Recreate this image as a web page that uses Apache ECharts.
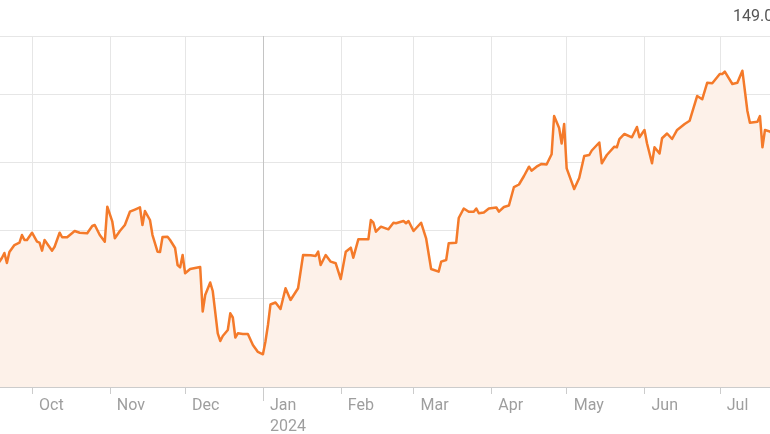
<!DOCTYPE html>
<html>
<head>
<meta charset="utf-8">
<script src="https://cdn.jsdelivr.net/npm/echarts@6/dist/echarts.min.js"></script>
<style>
html,body{margin:0;padding:0;background:#fff;}
#chart{width:770px;height:434px;}
</style>
</head>
<body>
<div id="chart"></div>
<script>
// ---- data ----
const dates = [
'2023-09-17','2023-09-18','2023-09-19','2023-09-20','2023-09-21','2023-09-22','2023-09-24','2023-09-26','2023-09-27','2023-09-28','2023-09-29',
'2023-10-01','2023-10-03','2023-10-04','2023-10-05','2023-10-06','2023-10-09','2023-10-10','2023-10-12','2023-10-13','2023-10-15','2023-10-18','2023-10-20','2023-10-23','2023-10-25','2023-10-26','2023-10-28','2023-10-30','2023-10-31',
'2023-11-02','2023-11-03','2023-11-05','2023-11-07','2023-11-09','2023-11-11','2023-11-13','2023-11-14','2023-11-15','2023-11-17','2023-11-18','2023-11-20','2023-11-21','2023-11-22','2023-11-24','2023-11-25','2023-11-27','2023-11-28','2023-11-29','2023-11-30',
'2023-12-01','2023-12-03','2023-12-05','2023-12-07','2023-12-08','2023-12-09','2023-12-11','2023-12-12','2023-12-14','2023-12-15','2023-12-16','2023-12-18','2023-12-19','2023-12-20','2023-12-21','2023-12-22','2023-12-24','2023-12-26','2023-12-28','2023-12-30',
'2024-01-01','2024-01-02','2024-01-03','2024-01-04','2024-01-06','2024-01-08','2024-01-10','2024-01-12','2024-01-15','2024-01-17','2024-01-20','2024-01-22','2024-01-23','2024-01-24','2024-01-26','2024-01-28','2024-01-30',
'2024-02-01','2024-02-03','2024-02-05','2024-02-06','2024-02-08','2024-02-10','2024-02-12','2024-02-13','2024-02-14','2024-02-15','2024-02-17','2024-02-20','2024-02-22','2024-02-23','2024-02-26','2024-02-27','2024-02-28',
'2024-03-01','2024-03-04','2024-03-06','2024-03-08','2024-03-11','2024-03-12','2024-03-14','2024-03-15','2024-03-18','2024-03-19','2024-03-21','2024-03-23','2024-03-25','2024-03-26','2024-03-27','2024-03-29','2024-03-31',
'2024-04-03','2024-04-04','2024-04-06','2024-04-08','2024-04-10','2024-04-12','2024-04-14','2024-04-16','2024-04-17','2024-04-19','2024-04-21','2024-04-23','2024-04-25','2024-04-26','2024-04-28','2024-04-29','2024-04-30',
'2024-05-01','2024-05-04','2024-05-06','2024-05-08','2024-05-10','2024-05-11','2024-05-14','2024-05-15','2024-05-17','2024-05-20','2024-05-21','2024-05-22','2024-05-24','2024-05-27','2024-05-29','2024-05-30',
'2024-06-01','2024-06-02','2024-06-04','2024-06-05','2024-06-07','2024-06-08','2024-06-10','2024-06-12','2024-06-14','2024-06-17','2024-06-19','2024-06-22','2024-06-24','2024-06-26','2024-06-28',
'2024-07-01','2024-07-02','2024-07-03','2024-07-06','2024-07-08','2024-07-10','2024-07-12','2024-07-13','2024-07-16','2024-07-17','2024-07-18','2024-07-19','2024-07-21','2024-07-23'
];
const prices = [
115.88,115.34,115.88,116.62,115.15,116.76,117.79,118.13,119.26,118.53,118.53,
119.60,118.28,118.13,116.96,118.53,116.96,117.54,119.60,118.93,118.93,119.85,119.60,119.51,120.59,120.74,119.26,118.28,123.43,
121.22,118.78,119.85,120.74,122.69,123.01,123.34,120.74,122.79,121.47,119.26,116.81,116.76,118.97,119.01,118.53,117.35,114.85,114.49,116.32,
113.63,114.26,114.41,114.56,108.01,110.44,112.28,111.03,104.81,103.68,104.41,105.29,107.75,107.13,104.19,104.81,104.71,104.71,103.09,102.06,
101.72,103.60,106.03,109.04,109.34,108.38,111.43,109.71,111.43,116.32,116.28,116.18,116.81,114.85,116.32,115.34,115.10,
112.79,116.81,117.40,115.93,118.63,118.63,118.63,121.47,121.07,119.75,120.49,120.10,121.07,120.99,121.32,120.99,121.32,
119.85,121.07,118.78,114.26,113.87,115.34,115.59,118.04,118.13,121.76,123.16,122.69,122.69,123.16,122.46,122.57,123.16,
123.31,122.69,123.38,123.60,126.32,126.69,127.94,129.31,128.72,129.31,129.71,129.63,131.13,136.76,135.00,132.72,135.59,
129.07,126.03,127.65,130.88,131.03,131.69,132.87,129.81,131.03,132.25,132.16,133.38,134.12,133.63,135.15,133.63,
134.71,132.75,129.81,132.16,131.25,133.49,134.19,133.38,134.71,135.59,136.07,139.71,139.22,141.66,141.57,
142.94,142.94,143.28,141.47,141.66,143.43,137.50,135.78,135.93,136.76,132.16,134.71,134.46,133.97
];
const monthTicks = ['2023-09-01','2023-10-01','2023-11-01','2023-12-01','2024-01-01','2024-02-01','2024-03-01','2024-04-01','2024-05-01','2024-06-01','2024-07-01','2024-08-01'];
const yearTicks = ['2024-01-01'];
const monthNames = ['Jan','Feb','Mar','Apr','May','Jun','Jul','Aug','Sep','Oct','Nov','Dec'];
const lastPriceLabel = '149.04';
const axisMin = '2023-09-01', axisMax = '2024-08-01';
const yMin = 96.91, yMax = 148.53;

const ts = s => { const p = s.split('-').map(Number); return new Date(p[0], p[1] - 1, p[2]).getTime(); };
const seriesData = dates.map((d, i) => [ts(d), prices[i]]);
const monthTickTs = monthTicks.map(ts);
const yearTickTs = yearTicks.map(ts);
const firstTick = monthTickTs[0];

const chart = echarts.init(document.getElementById('chart'), null, {renderer: 'canvas'});
const gridBox = {left: -43.3, right: -27.6, top: 36, bottom: 47, containLabel: false, outerBoundsMode: 'none'};
const labelFont = {fontFamily: 'Roboto, sans-serif', fontSize: 16, color: '#9e9e9e'};

chart.setOption({
  animation: false,
  backgroundColor: '#ffffff',
  grid: [Object.assign({}, gridBox), Object.assign({}, gridBox)],
  xAxis: [{
    type: 'value', gridIndex: 0, min: ts(axisMin), max: ts(axisMax), scale: true,
    axisLine: {show: true, lineStyle: {color: '#cccccc', width: 1}},
    axisTick: {show: true, customValues: monthTickTs, length: 7, lineStyle: {color: '#cccccc'}},
    splitLine: {show: true, lineStyle: {color: '#e6e6e6', width: 1}},
    axisLabel: Object.assign({
      customValues: monthTickTs, align: 'left', margin: 8, lineHeight: 21,
      padding: [0, 0, 0, 7], hideOverlap: false, showMinLabel: true, showMaxLabel: true,
      formatter: function (v) {
        const d = new Date(v);
        const m = monthNames[d.getMonth()];
        if (d.getMonth() === 0 || +d === firstTick) return m + '\n' + d.getFullYear();
        return m;
      }
    }, labelFont)
  }, {
    type: 'value', gridIndex: 1, min: ts(axisMin), max: ts(axisMax), scale: true, position: 'bottom',
    axisLine: {show: false},
    axisTick: {show: true, customValues: yearTickTs, length: 14, lineStyle: {color: '#cccccc'}},
    splitLine: {show: true, lineStyle: {color: '#c4c4c4', width: 1}},
    axisLabel: {show: false}
  }],
  yAxis: [{
    type: 'value', gridIndex: 0, min: yMin, max: yMax, position: 'right',
    axisLine: {show: false}, axisTick: {show: false}, axisLabel: {show: false},
    splitLine: {show: true, lineStyle: {color: '#e6e6e6', width: 1}}
  }, {
    type: 'value', gridIndex: 1, min: yMin, max: yMax, position: 'right',
    axisLine: {show: false}, axisTick: {show: false}, axisLabel: {show: false},
    splitLine: {show: false}
  }],
  series: [{
    type: 'line', xAxisIndex: 0, yAxisIndex: 0,
    data: seriesData, showSymbol: false, symbol: 'none', smooth: false,
    lineStyle: {color: '#f47a2a', width: 2.5, join: 'round'},
    areaStyle: {color: '#fdf1e9', opacity: 1},
    z: 3
  }],
  graphic: [{
    type: 'text', left: 733, top: 9,
    style: {text: lastPriceLabel, fontFamily: 'Roboto, sans-serif', fontSize: 16, fill: '#555555'}
  }]
});
</script>
</body>
</html>
